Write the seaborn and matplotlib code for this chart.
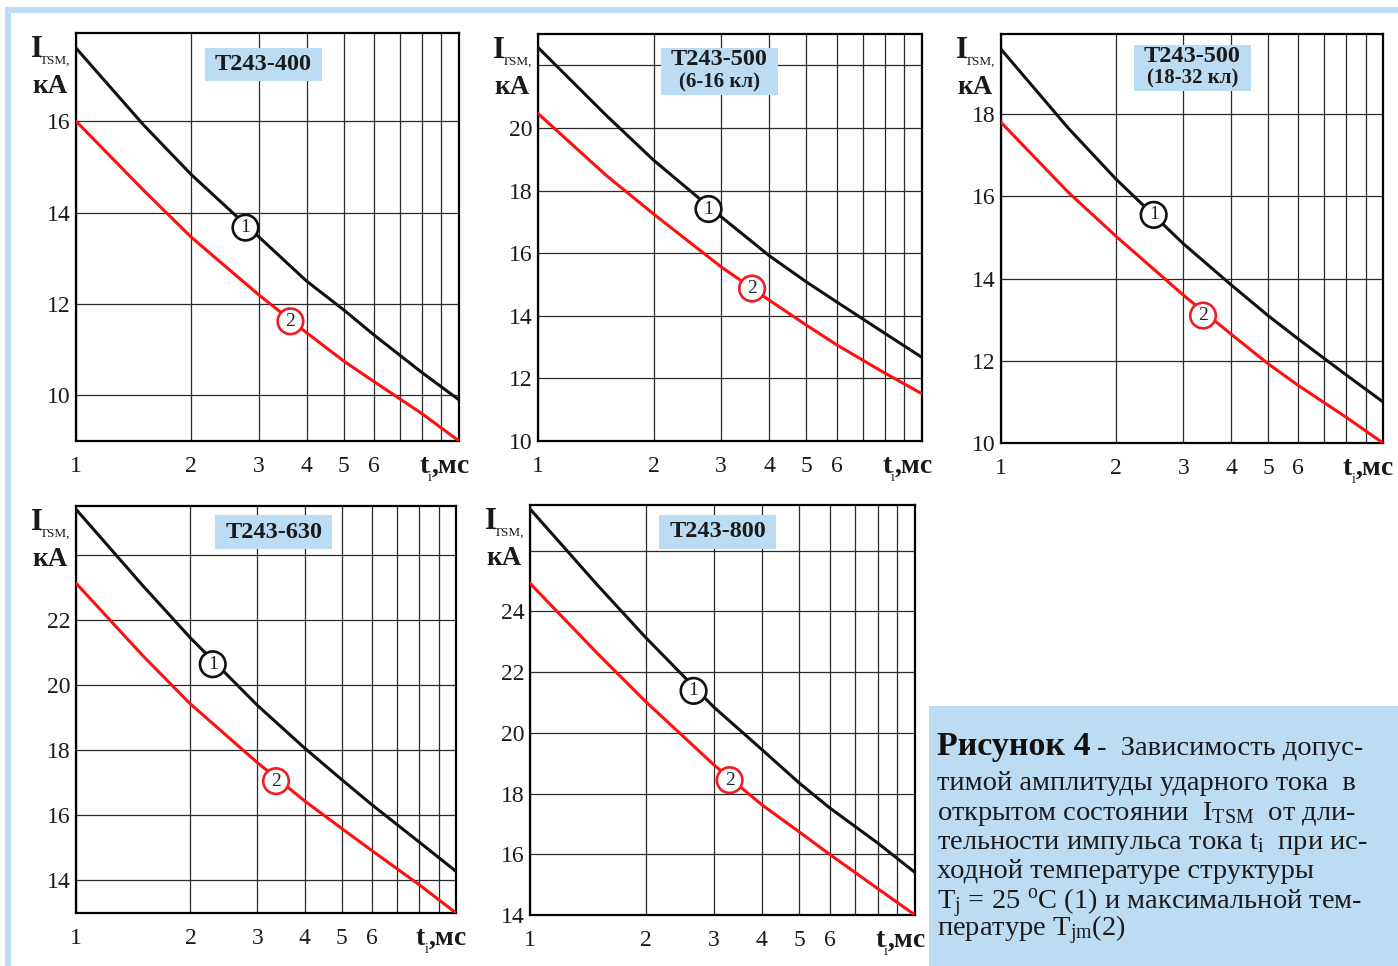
import numpy as np
import pandas as pd
import matplotlib
matplotlib.use("Agg")
import matplotlib.pyplot as plt
from matplotlib.patches import Rectangle
from matplotlib.transforms import offset_copy
import seaborn as sns

# pulse duration, ms (log axis)
t_ms = [1, 1.5, 2, 3, 4, 5, 6, 8, 10]

# I_TSM, kA  -- curve 1 (Tj = 25 C) and curve 2 (Tjm)
t400_1 = [17.60, 15.92, 14.83, 13.47, 12.50, 11.87, 11.32, 10.50, 9.90]
t400_2 = [16.00, 14.49, 13.46, 12.20, 11.37, 10.75, 10.30, 9.60, 9.00]
t500a_1 = [22.57, 20.42, 18.97, 17.16, 15.92, 15.08, 14.44, 13.44, 12.67]
t500a_2 = [20.46, 18.50, 17.25, 15.56, 14.50, 13.70, 13.07, 12.17, 11.51]
t500b_1 = [19.58, 17.66, 16.42, 14.85, 13.85, 13.10, 12.53, 11.66, 11.00]
t500b_2 = [17.80, 16.10, 15.03, 13.60, 12.65, 11.93, 11.40, 10.63, 10.00]
t630_1 = [25.40, 23.05, 21.45, 19.38, 18.06, 17.10, 16.33, 15.18, 14.28]
t630_2 = [23.13, 20.90, 19.42, 17.62, 16.44, 15.60, 14.92, 13.87, 13.00]
t800_1 = [27.37, 24.85, 23.13, 20.85, 19.45, 18.35, 17.53, 16.37, 15.40]
t800_2 = [24.92, 22.60, 21.02, 18.95, 17.63, 16.74, 16.00, 14.87, 14.00]

titles = ["Т243-400", "Т243-500\n(6-16 кл)", "Т243-500\n(18-32 кл)", "Т243-630", "Т243-800"]
curves1 = [t400_1, t500a_1, t500b_1, t630_1, t800_1]
curves2 = [t400_2, t500a_2, t500b_2, t630_2, t800_2]
ylims = [(9, 17.93), (10, 23), (10, 19.95), (13, 25.5), (14, 27.5)]
yticks = [[10, 12, 14, 16], [10, 12, 14, 16, 18, 20, 22], [10, 12, 14, 16, 18],
          [14, 16, 18, 20, 22, 24], [14, 16, 18, 20, 22, 24, 26]]
ylabels = [["10", "12", "14", "16"], ["10", "12", "14", "16", "18", "20", ""],
           ["10", "12", "14", "16", "18"], ["14", "16", "18", "20", "22", ""],
           ["14", "16", "18", "20", "22", "24", ""]]
xtick_vals = [1, 2, 3, 4, 5, 6, 7, 8, 9, 10]
xtick_text = ["1", "2", "3", "4", "5", "6", "", "", "", ""]
# circled curve numbers (t, I)
mark1 = [(2.77, 13.67), (2.78, 17.41), (2.51, 15.55), (2.29, 20.64), (2.66, 21.38)]
mark2 = [(3.63, 11.62), (3.61, 14.87), (3.38, 13.10), (3.36, 17.05), (3.30, 18.44)]

caption_head = "Рисунок 4"
caption_first = " -  Зависимость допус-"
caption_lines = [
    "тимой амплитуды ударного тока  в",
    r"открытом состоянии  I$_\mathregular{TSM}$  от дли-",
    r"тельности импульса тока t$_\mathregular{i}$  при ис-",
    "ходной температуре структуры",
    r"T$_\mathregular{j}$ = 25 $^\mathregular{o}$C (1) и максимальной тем-" + "\n"
    + r"пературе T$_\mathregular{jm}$(2)",
]

sns.set_style("white")
plt.rcParams["font.family"] = ["Liberation Serif", "DejaVu Serif"]
plt.rcParams["mathtext.fontset"] = "custom"
plt.rcParams["mathtext.rm"] = "Liberation Serif"
plt.rcParams["mathtext.it"] = "Liberation Serif"
plt.rcParams["mathtext.bf"] = "Liberation Serif:bold"

W, H = 1398, 966
fig = plt.figure(figsize=(W / 100, H / 100), dpi=100)
fig.patch.set_facecolor("white")

blue = "#bcdcf3"
ink = "#1a1a1a"
# light blue page frame
fig.patches.append(Rectangle((5 / W, 1 - 13 / H), 1, 6 / H, transform=fig.transFigure,
                             fc=blue, ec="none", zorder=0))
fig.patches.append(Rectangle((5 / W, 0), 6 / W, 1 - 7 / H, transform=fig.transFigure,
                             fc=blue, ec="none", zorder=0))

# axes boxes in pixels: left, top, right, bottom
boxes = [(76, 33, 459, 441), (538, 34, 922, 441), (1001, 34, 1383, 443),
         (76, 506, 456, 913), (530, 505, 915, 915)]
# title box (x0, y0, w, h in axes fraction)
tboxes = [(0.337, 0.882, 0.305, 0.081), (0.320, 0.850, 0.305, 0.116),
          (0.348, 0.861, 0.306, 0.112), (0.366, 0.894, 0.308, 0.084),
          (0.335, 0.893, 0.304, 0.083)]

for i in range(5):
    l, t, r, b = boxes[i]
    ax = fig.add_axes([l / W, 1 - b / H, (r - l) / W, (b - t) / H])
    df = pd.DataFrame({
        "t": t_ms + t_ms,
        "I": curves1[i] + curves2[i],
        "curve": ["1"] * len(t_ms) + ["2"] * len(t_ms),
    })
    sns.lineplot(data=df, x="t", y="I", hue="curve", palette=["#111111", "#ff1010"],
                 linewidth=2.2, legend=False, ax=ax, zorder=3)
    ax.set_xscale("log")
    ax.set_xlim(1, 10)
    ax.set_ylim(*ylims[i])
    ax.set_xticks(xtick_vals)
    ax.set_xticklabels(xtick_text)
    ax.xaxis.set_minor_locator(matplotlib.ticker.NullLocator())
    ax.set_yticks(yticks[i])
    ax.set_yticklabels(ylabels[i])
    ax.tick_params(axis="x", length=0, pad=11, labelsize=17, colors=ink)
    ax.tick_params(axis="y", length=0, pad=4, labelsize=17, colors=ink)
    ax.grid(True, color="#2a2a2a", linewidth=0.9)
    for sp in ax.spines.values():
        sp.set_color("black")
        sp.set_linewidth(1.6)
    ax.set_xlabel("")
    ax.set_ylabel("")

    x0, y0, bw, bh = tboxes[i]
    ax.add_patch(Rectangle((x0, y0), bw, bh, transform=ax.transAxes, fc=blue, ec="none", zorder=2.5))
    lines = titles[i].split("\n")
    cx = x0 + bw / 2
    if len(lines) == 1:
        ax.text(cx, y0 + bh / 2, lines[0], transform=ax.transAxes, ha="center", va="center",
                fontsize=17.5, fontweight="bold", color=ink, zorder=4)
    else:
        ax.text(cx, y0 + bh * 0.76, lines[0], transform=ax.transAxes, ha="center", va="center",
                fontsize=17.5, fontweight="bold", color=ink, zorder=4)
        ax.text(cx, y0 + bh * 0.27, lines[1], transform=ax.transAxes, ha="center", va="center",
                fontsize=15, fontweight="bold", color=ink, zorder=4)

    for (mx, my), num, col in [(mark1[i], "1", "#111111"), (mark2[i], "2", "#ee1c25")]:
        ax.text(mx, my, num, ha="center", va="center", fontsize=14, color="#222222", zorder=5,
                bbox=dict(boxstyle="circle,pad=0.22", fc="white", ec=col, lw=1.9))

    # y label  I_TSM, кА  (top-left, outside)
    tl = ax.transAxes
    ax.text(0, 1, "I", transform=offset_copy(tl, fig, x=-45, y=-24, units="dots"),
            ha="left", va="baseline", fontsize=22, fontweight="bold", color=ink)
    ax.text(0, 1, "TSM,", transform=offset_copy(tl, fig, x=-36, y=-31, units="dots"),
            ha="left", va="baseline", fontsize=9.5, color=ink)
    ax.text(0, 1, "кА", transform=offset_copy(tl, fig, x=-44, y=-60, units="dots"),
            ha="left", va="baseline", fontsize=19.5, fontweight="bold", color=ink)
    # x label  t_i,мс  (bottom-right, outside)
    ax.text(1, 0, "t", transform=offset_copy(tl, fig, x=-40, y=-32, units="dots"),
            ha="left", va="baseline", fontsize=20, fontweight="bold", color=ink)
    ax.text(1, 0, "i", transform=offset_copy(tl, fig, x=-31, y=-40, units="dots"),
            ha="left", va="baseline", fontsize=10, color=ink)
    ax.text(1, 0, ",мс", transform=offset_copy(tl, fig, x=-27, y=-32, units="dots"),
            ha="left", va="baseline", fontsize=20, fontweight="bold", color=ink)

# caption box
fig.patches.append(Rectangle((929 / W, 0), 1 - 929 / W, 260 / H, transform=fig.transFigure,
                             fc=blue, ec="none", zorder=0))
cx0 = 937 / W
t_head = fig.text(cx0, 1 - 755 / H, caption_head, fontsize=24.5, fontweight="bold",
                  ha="left", va="baseline", color="#111111")
fig.canvas.draw()
bb = t_head.get_window_extent(fig.canvas.get_renderer())
fig.text(bb.x1 / W, 1 - 755 / H, caption_first, fontsize=20.5, ha="left", va="baseline",
         color=ink)
# baseline of the last line of each text block
baselines = [790, 820, 849, 878, 936]
for txt, yb in zip(caption_lines, baselines):
    fig.text(cx0, 1 - yb / H, txt, fontsize=20.5, ha="left", va="baseline", color=ink,
             linespacing=0.72)

fig.savefig("out.png", dpi=100)
